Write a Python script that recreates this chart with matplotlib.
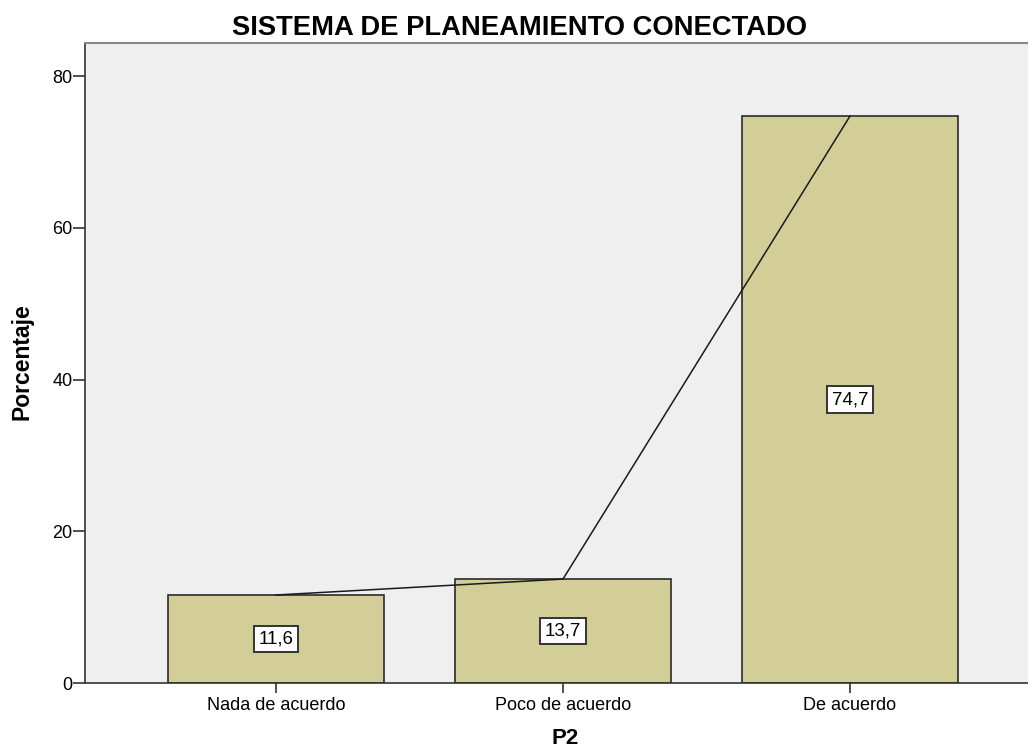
import matplotlib.pyplot as plt

categorias = ["Nada de acuerdo", "Poco de acuerdo", "De acuerdo"]
porcentajes = [11.6, 13.7, 74.7]
etiquetas = ["11,6", "13,7", "74,7"]
yticks = [0, 20, 40, 60, 80]

plt.rcParams['font.family'] = ['Liberation Sans', 'DejaVu Sans']

fig = plt.figure(figsize=(10.28, 7.48), dpi=100)
# ejes desde x=85 hasta más allá del borde derecho, como en el original
ax = fig.add_axes([85 / 1028, 65 / 748, 956 / 1028, 640 / 748])
ax.set_facecolor("#efefef")

x = list(range(len(categorias)))
ax.bar(x, porcentajes, width=0.753, color="#d3ce97", edgecolor="#2b2b2b", linewidth=1.2, zorder=2)
ax.plot(x, porcentajes, color="#1a1a1a", linewidth=1.1, zorder=3)

for xi, v, t in zip(x, porcentajes, etiquetas):
    ax.text(xi, v / 2, t, ha="center", va="center", fontsize=13.5, zorder=4,
            bbox=dict(boxstyle="square,pad=0.25", facecolor="white", edgecolor="#333333", linewidth=1.4))

ax.set_xlim(-0.666, 2.666)
ax.set_ylim(0, 84.35)
ax.set_xticks(x)
ax.set_xticklabels(categorias, fontsize=13)
ax.set_yticks(yticks)
ax.set_yticklabels([str(v) for v in yticks], fontsize=13)
ax.tick_params(axis="x", length=7, width=1.2, color="#333333", pad=3)
ax.tick_params(axis="y", length=8.5, width=1.2, color="#333333", pad=0.5)

ax.spines["right"].set_visible(False)
ax.spines["top"].set_color("#888888")
ax.spines["top"].set_linewidth(1.5)
ax.spines["left"].set_color("#333333")
ax.spines["left"].set_linewidth(1.2)
ax.spines["bottom"].set_color("#333333")
ax.spines["bottom"].set_linewidth(1.2)

fig.text(519 / 1028, 1 - 28 / 748, "SISTEMA DE PLANEAMIENTO CONECTADO", ha="center", va="center",
         fontsize=19.7, fontweight="bold")
fig.text(565 / 1028, 1 - 739 / 748, "P2", ha="center", va="center", fontsize=16, fontweight="bold")
fig.text(22 / 1028, 1 - 362 / 748, "Porcentaje", ha="center", va="center", rotation=90,
         fontsize=16.5, fontweight="bold")

fig.savefig("out.png", dpi=100)
